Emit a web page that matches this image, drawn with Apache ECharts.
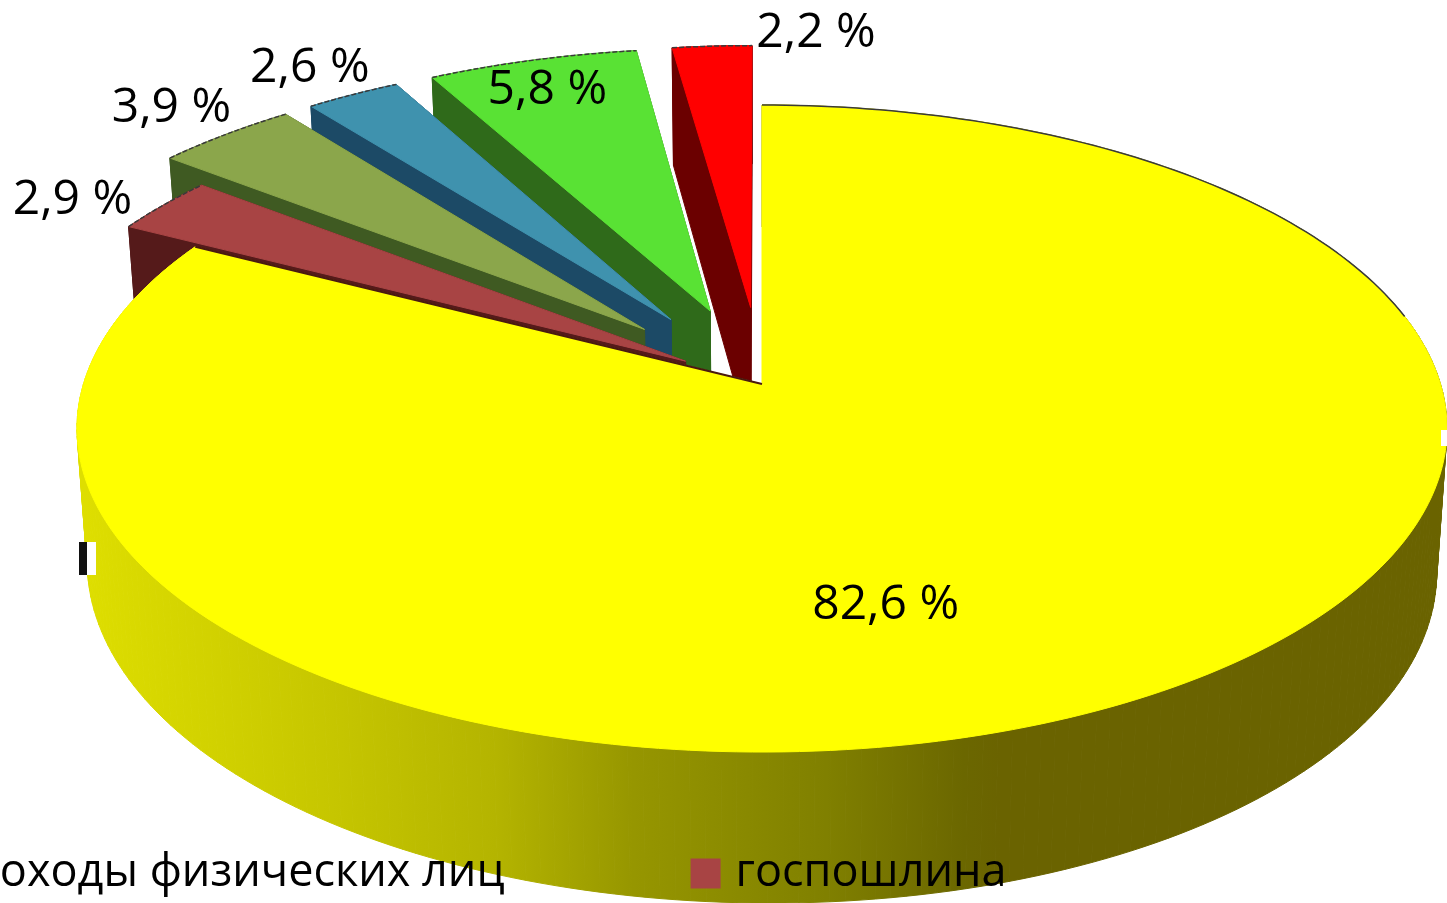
<!DOCTYPE html>
<html>
<head>
<meta charset="utf-8">
<style>
html,body{margin:0;padding:0;background:#fff;overflow:hidden}
#container{width:1447px;height:903px}
</style>
<script src="https://cdn.jsdelivr.net/npm/echarts@6/dist/echarts.min.js"></script>
</head>
<body>
<div id="container"></div>
<script>
// only the first two names can be read, the rest of the legend is cut off
let categories = ['доходы физических лиц', 'госпошлина', 'категория 3', 'категория 4', 'категория 5', 'категория 6'];
let values = [82.6, 2.9, 3.9, 2.6, 5.8, 2.2];
let valueLabels = ['82,6 %', '2,9 %', '3,9 %', '2,6 %', '5,8 %', '2,2 %'];

let topColors = ['#ffff00', '#a84444', '#8ba64b', '#3f92ae', '#59e234', '#ff0000'];
let wallColors = ['#6b6300', '#551a1a', '#3f5a22', '#1c4a66', '#2f6a1a', '#6b0000'];
let explode = [0, 0.135, 0.25, 0.25, 0.25, 0.25];
let labelOffsets = [[-276, -86], [-91, -5], [-54, -26], [-43, -26], [15, 30], [104, -13]];

// perspective of the pie plane, u to the right, v towards the viewer
let cx = 762, cy = 384, R = 678.5, S = 317.4, k = 0.1376;
let total = values.reduce((a, b) => a + b, 0);

function project(u, v, down) {
    let w = 1 / (1 - k * v);
    let x = cx + R * u * w;
    let y = cy + S * v * w;
    if (down) {
        x = cx + (x - cx) * 0.985;
        y = y + 136.5 + 14.5 * v + 5 * u;
    }
    return [x, y];
}

function sliceAngles(i) {
    let before = 0;
    for (let j = 0; j < i; j++) before += values[j];
    return [before / total * Math.PI * 2, (before + values[i]) / total * Math.PI * 2];
}

function arcPoints(i, from, to, down) {
    let a = sliceAngles(i);
    let mid = (a[0] + a[1]) / 2;
    let ox = explode[i] * Math.sin(mid), oy = -explode[i] * Math.cos(mid);
    let n = Math.max(2, Math.ceil((to - from) / 0.02));
    let pts = [];
    for (let s = 0; s <= n; s++) {
        let t = from + (to - from) * s / n;
        pts.push(project(Math.sin(t) + ox, -Math.cos(t) + oy, down));
    }
    return pts;
}

function apex(i, down) {
    let a = sliceAngles(i);
    let mid = (a[0] + a[1]) / 2;
    return project(explode[i] * Math.sin(mid), -explode[i] * Math.cos(mid), down);
}

let wallGradient = new echarts.graphic.LinearGradient(85, 0, 1000, 0, [
    {offset: 0, color: '#dede00'},
    {offset: 0.27, color: '#c6c600'},
    {offset: 0.45, color: '#b4b400'},
    {offset: 0.6, color: '#969600'},
    {offset: 0.81, color: '#808000'},
    {offset: 0.96, color: '#6b6700'},
    {offset: 1, color: '#6a6300'}
], true);

function poly(points, fill) {
    return {type: 'polygon', shape: {points: points}, style: {fill: fill, stroke: fill, lineWidth: 1}};
}

function drawSlice(i) {
    let a = sliceAngles(i);
    let kids = [];
    let top = arcPoints(i, a[0], a[1], false);
    let bottom = arcPoints(i, a[0], a[1], true);

    if (explode[i] > 0) {
        let wall = wallColors[i];
        kids.push(poly(top.concat(bottom.slice().reverse()), wall));
        kids.push(poly([apex(i, false), top[top.length - 1], bottom[bottom.length - 1], apex(i, true)], wall));
        kids.push(poly([apex(i, false), top[0], bottom[0], apex(i, true)], wall));
    } else {
        // yellow rim in thin strips, the shared gradient runs across the page
        for (let s = 0; s < top.length - 1; s++) {
            kids.push(poly([top[s], top[s + 1], bottom[s + 1], bottom[s]], wallGradient));
        }
    }

    kids.push(poly([apex(i, false)].concat(top), topColors[i]));

    // thin dark rim along the far edge
    let far = explode[i] > 0 ? top : arcPoints(i, a[0], a[0] + 1.35, false);
    kids.push({
        type: 'polyline',
        shape: {points: far},
        style: {fill: null, stroke: '#3a3a3a', lineWidth: 1.5, lineDash: explode[i] > 0 ? [5, 2] : null}
    });
    if (explode[i] === 0) {
        let end = top[top.length - 1];
        kids.push({
            type: 'polyline',
            shape: {points: [end, apex(i, false)]},
            style: {fill: null, stroke: '#4a1a10', lineWidth: 2}
        });
    }

    let mid = arcPoints(i, (a[0] + a[1]) / 2, (a[0] + a[1]) / 2 + 0.0001, false)[0];
    kids.push({
        type: 'text',
        style: {
            text: valueLabels[i],
            x: mid[0] + labelOffsets[i][0],
            y: mid[1] + labelOffsets[i][1],
            align: 'center',
            verticalAlign: 'middle',
            fill: '#000',
            font: '48px "Open Sans"'
        }
    });
    return {type: 'group', children: kids};
}

// far slices first, yellow goes over all of them
let series = [];
for (let i = values.length - 1; i >= 0; i--) {
    series.push({
        name: categories[i],
        type: 'custom',
        coordinateSystem: 'none',
        itemStyle: {color: topColors[i]},
        silent: true,
        animation: false,
        clip: false,
        data: [[values[i]]],
        renderItem: function () { return drawSlice(i); }
    });
}

let chart = echarts.init(document.getElementById('container'));
chart.setOption({
    backgroundColor: '#fff',
    animation: false,
    tooltip: {show: false},
    legend: {
        data: [categories[0], categories[1]],
        selectedMode: false,
        left: -71,
        top: 851,
        itemWidth: 30,
        itemHeight: 30,
        itemGap: 186,
        padding: 0,
        icon: 'rect',
        textStyle: {color: '#000', fontFamily: 'Open Sans', fontSize: 45, padding: [0, 0, 0, 10]}
    },
    series: series,
    // leftovers of a cut off label on the reference
    graphic: [
        {type: 'rect', shape: {x: 79, y: 542, width: 8, height: 33}, style: {fill: '#111'}, z: 10},
        {type: 'rect', shape: {x: 87, y: 542, width: 9, height: 33}, style: {fill: '#fff'}, z: 10},
        {type: 'rect', shape: {x: 1441, y: 430, width: 6, height: 16}, style: {fill: '#fff'}, z: 10}
    ]
});
</script>
</body>
</html>
